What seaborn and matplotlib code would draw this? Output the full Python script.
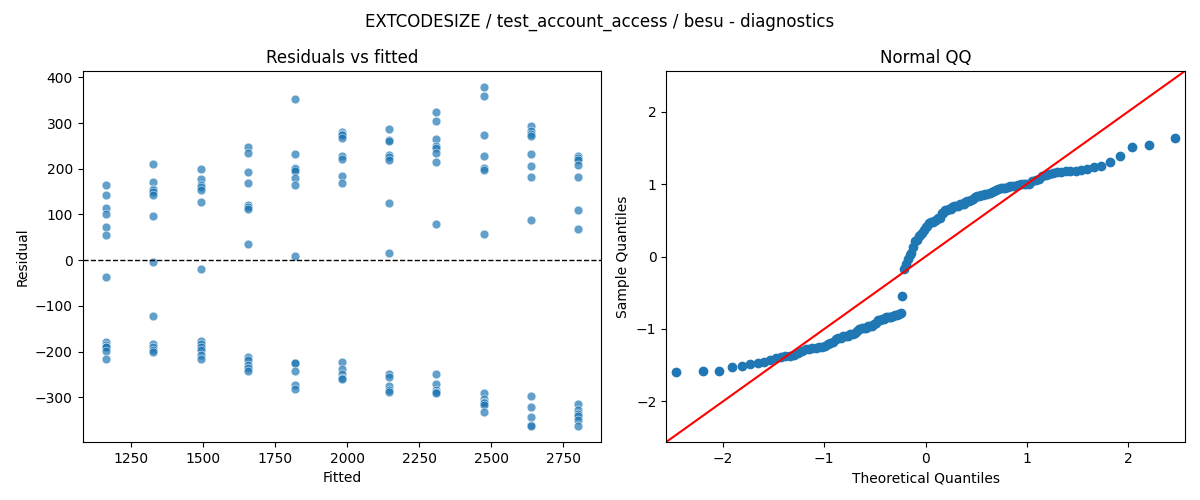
import numpy as np
import pandas as pd
import matplotlib
matplotlib.use("Agg")
import matplotlib.pyplot as plt
import seaborn as sns
from statistics import NormalDist

# ---- data ----
fitted_levels = [1163, 1327, 1491, 1655, 1818, 1982, 2146, 2310, 2474, 2637, 2801]

resid_1163 = [165, 143, 114, 101, 72, 54, -36, -179, -185, -189, -191, -199, -217]
resid_1327 = [211, 171, 156, 153, 150, 143, 96, -5, -123, -183, -189, -197, -200]
resid_1491 = [200, 178, 164, 161, 154, 127, -19, -176, -184, -190, -197, -208, -217]
resid_1655 = [247, 235, 193, 169, 121, 116, 113, 35, -213, -218, -229, -235, -243]
resid_1818 = [352, 233, 201, 199, 195, 180, 165, 9, -224, -226, -243, -273, -283]
resid_1982 = [280, 276, 273, 268, 228, 222, 185, 169, -223, -239, -250, -257, -261]
resid_2146 = [288, 264, 261, 231, 226, 220, 125, 15, -249, -256, -276, -285, -288]
resid_2310 = [324, 304, 265, 250, 245, 235, 215, 79, -250, -270, -285, -288, -290]
resid_2474 = [380, 359, 275, 229, 202, 197, 57, -290, -303, -310, -313, -318, -332]
resid_2637 = [293, 282, 277, 271, 233, 207, 183, 88, -298, -321, -344, -361, -364]
resid_2801 = [229, 223, 219, 208, 181, 110, 68, -314, -327, -336, -340, -350, -362]

resid_groups = [resid_1163, resid_1327, resid_1491, resid_1655, resid_1818, resid_1982,
                resid_2146, resid_2310, resid_2474, resid_2637, resid_2801]

title = "EXTCODESIZE / test_account_access / besu - diagnostics"

# ---- build tables ----
rows = []
for f, grp in zip(fitted_levels, resid_groups):
    for r in grp:
        rows.append((f, r))
df = pd.DataFrame(rows, columns=["Fitted", "Residual"])

# Normal QQ of the residuals (standardized, positions i/(n+1))
res = np.sort(df["Residual"].to_numpy(dtype=float))
n = len(res)
sample_q = (res - res.mean()) / res.std()
nd = NormalDist()
theo_q = np.array([nd.inv_cdf(i / (n + 1)) for i in range(1, n + 1)])
qq = pd.DataFrame({"Theoretical Quantiles": theo_q, "Sample Quantiles": sample_q})

# ---- plot ----
plt.rcParams["font.family"] = ["DejaVu Sans"]
fig, (ax1, ax2) = plt.subplots(1, 2, figsize=(12, 5), dpi=100)
fig.subplots_adjust(left=0.0688, right=0.9875, bottom=0.116, top=0.858, wspace=0.125)

sns.scatterplot(data=df, x="Fitted", y="Residual", ax=ax1, alpha=0.7, color="C0", s=40)
ax1.axhline(0, color="black", linestyle="--", linewidth=1)
ax1.set_title("Residuals vs fitted", fontsize=12)
ax1.set_xlim(1081, 2883)
ax1.set_ylim(-398, 414)

sns.scatterplot(data=qq, x="Theoretical Quantiles", y="Sample Quantiles", ax=ax2,
                color="C0", edgecolor="C0", linewidth=1, s=36, alpha=1)
lim = 2.56
ax2.plot([-lim, lim], [-lim, lim], color="red", linewidth=1.5)
ax2.set_xlim(-lim, lim)
ax2.set_ylim(-lim, lim)
ax2.set_xticks([-2, -1, 0, 1, 2])
ax2.set_yticks([-2, -1, 0, 1, 2])
ax2.set_title("Normal QQ", fontsize=12)

fig.suptitle(title, fontsize=12, y=0.975)
fig.savefig("out.png", dpi=100)
